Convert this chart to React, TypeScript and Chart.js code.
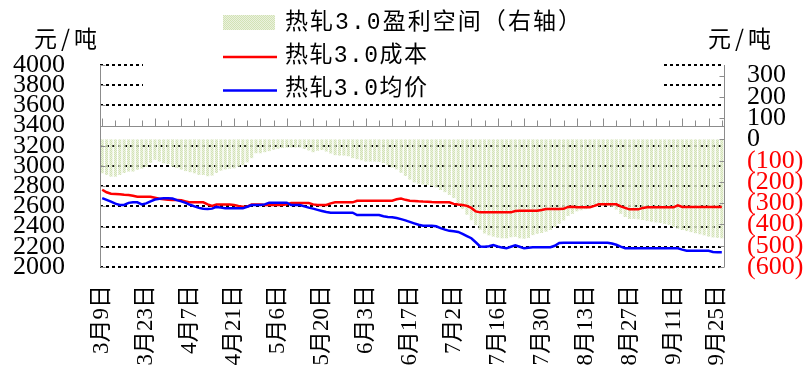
import React, { useEffect, useRef } from 'react';
import { Chart, registerables } from 'chart.js';

Chart.register(...registerables);

// ---------- data ----------
const tickLabels = ['3月9日', '3月23日', '4月7日', '4月21日', '5月6日', '5月20日', '6月3日', '6月17日', '7月2日', '7月16日', '7月30日', '8月13日', '8月27日', '9月11日', '9月25日'];
const labelStep = 10;

const costValues = [
  2765, 2740, 2725, 2723, 2720, 2715, 2713, 2705, 2696, 2696,
  2696, 2696, 2685, 2675, 2670, 2665, 2663, 2663, 2660, 2650,
  2640, 2640, 2640, 2640, 2620, 2605, 2618, 2618, 2618, 2618,
  2614, 2605, 2597, 2597, 2618, 2618, 2618, 2614, 2614, 2614,
  2614, 2614, 2620, 2634, 2634, 2634, 2634, 2634, 2620, 2614,
  2614, 2614, 2630, 2640, 2640, 2640, 2640, 2640, 2656, 2656,
  2656, 2656,
  2656, 2656, 2656, 2656, 2656, 2670, 2678, 2665, 2656,
  2653, 2650, 2648, 2647, 2643, 2640, 2640, 2640, 2640, 2625,
  2618, 2614, 2605, 2585, 2550, 2541, 2541, 2541, 2541, 2541,
  2541, 2541, 2541, 2555, 2558, 2558, 2558, 2558, 2558, 2565,
  2574, 2574, 2574, 2574, 2576, 2595, 2597, 2591, 2591, 2591,
  2591, 2605, 2621, 2621, 2621, 2621, 2621, 2600, 2585, 2571,
  2571, 2571, 2585, 2591, 2591, 2591, 2591, 2591, 2591, 2591,
  2610, 2595, 2594, 2594, 2594, 2594, 2594, 2594, 2594, 2594, 2594,
];

const priceValues = [
  2682, 2665, 2647, 2627, 2614, 2614, 2635, 2640, 2640, 2620,
  2630, 2650, 2668, 2676, 2680, 2680, 2678, 2662, 2650, 2635,
  2616, 2600, 2585, 2576, 2574, 2578, 2595, 2588, 2581, 2581,
  2581, 2581, 2581, 2597, 2614, 2614, 2614, 2620, 2637, 2637,
  2637, 2637, 2637, 2614, 2614, 2614, 2600, 2588, 2578, 2566,
  2555, 2545, 2538, 2538, 2538, 2538, 2538, 2538, 2515, 2515,
  2515, 2515,
  2515, 2515, 2502, 2496, 2493, 2485, 2474, 2462, 2447,
  2432, 2418, 2409, 2409, 2409, 2403, 2385, 2370, 2358, 2353,
  2347, 2328, 2306, 2285, 2245, 2203, 2201, 2206, 2217, 2203,
  2192, 2185, 2200, 2215, 2200, 2185, 2190, 2195, 2195, 2195,
  2195, 2195, 2210, 2238, 2241, 2241, 2241, 2241, 2241, 2241,
  2241, 2241, 2241, 2241, 2241, 2232, 2220, 2202, 2186, 2185,
  2185, 2185, 2185, 2185, 2185, 2185, 2185, 2185, 2185, 2185,
  2185, 2172, 2162, 2162, 2162, 2162, 2162, 2160, 2148, 2145, 2145,
];

const profitValues = [
  -159, -167, -175, -175, -167, -158, -151, -151, -143, -137,
  -130, -110, -96, -104, -112, -116, -128, -135, -142, -149,
  -154, -159, -167, -167, -173, -170, -158, -147, -141, -138,
  -136, -128, -121, -108, -88, -65, -65, -60, -55, -49,
  -44, -40, -38, -38, -38, -38, -45, -52, -60, -53,
  -50, -57, -66, -74, -76, -76, -79, -88, -93, -98,
  -104, -104,
  -104, -106, -111, -121, -132, -141, -157, -172, -189,
  -202, -208, -212, -214, -219, -226, -238, -248, -261, -276,
  -300, -327, -354, -380, -403, -425, -442, -451, -457, -462,
  -465, -465, -460, -458, -465, -467, -463, -450, -444, -440,
  -434, -426, -412, -397, -381, -360, -350, -338, -333, -328,
  -322, -317, -313, -311, -311, -317, -330, -350, -365, -374,
  -374, -376, -379, -383, -387, -390, -393, -397, -402, -412,
  -420, -426, -431, -436, -441, -446, -451, -457, -461, -463, -465,
];

const leftTickValues = [2000, 2200, 2400, 2600, 2800, 3000, 3200, 3400, 3600, 3800, 4000];
const rightTickValues = [-600, -500, -400, -300, -200, -100, 0, 100, 200, 300];
const leftMin = 2000;
const leftMax = 4000;
const rightMin = -600;
const rightMax = 350;
const axisCrossValue = 3400;

const legendNames = ['热轧3.0盈利空间（右轴）', '热轧3.0成本', '热轧3.0均价'];
const unitTitle = '元/吨';

const categories = costValues.map((_, i) =>
  i % labelStep === 0 && tickLabels[i / labelStep] ? tickLabels[i / labelStep] : ''
);

// ---------- styles ----------
const SERIF = "'Liberation Serif', 'Noto Sans CJK SC', serif";
const AXIS_GRAY = '#8c8c8c';
const RED = '#ff0000';
const BLUE = '#0000ff';

function makePattern(): CanvasPattern | string {
  const c = document.createElement('canvas');
  c.width = 2;
  c.height = 2;
  const p = c.getContext('2d');
  if (!p) return '#dbe7c6';
  p.fillStyle = 'rgba(202,221,168,0.85)';
  p.fillRect(0, 0, 1, 1);
  p.fillRect(1, 1, 1, 1);
  p.fillStyle = 'rgba(232,240,216,0.85)';
  p.fillRect(1, 0, 1, 1);
  p.fillRect(0, 1, 1, 1);
  const pat = p.createPattern(c, 'repeat');
  return pat || '#dbe7c6';
}

// draws text with uniform extra spacing so that it spans the given width
function drawFitted(ctx: CanvasRenderingContext2D, text: string, x: number, y: number, width: number) {
  const chars = Array.from(text);
  const total = chars.reduce((s, ch) => s + ctx.measureText(ch).width, 0);
  const spacing = chars.length > 1 ? Math.max(0, (width - total) / (chars.length - 1)) : 0;
  let cx = x;
  for (const ch of chars) {
    ctx.fillText(ch, cx, y);
    cx += ctx.measureText(ch).width + spacing;
  }
}

const decorPlugin = {
  id: 'decor',
  afterDatasetsDraw(chart: any) {
    const { ctx, chartArea: a, scales } = chart;
    const xs = scales.x;
    const ys = scales.y;
    const y1 = scales.y1;
    ctx.save();
    ctx.strokeStyle = AXIS_GRAY;
    ctx.lineWidth = 1;
    ctx.setLineDash([]);
    ctx.beginPath();
    // category axis crossing the left axis at 3400
    const cy = Math.round(ys.getPixelForValue(axisCrossValue)) + 0.5;
    ctx.moveTo(a.left, cy);
    ctx.lineTo(a.right, cy);
    for (let i = 0; i < categories.length; i += 3) {
      const px = Math.round(xs.getPixelForValue(i)) + 0.5;
      const len = i % 6 === 0 ? 8 : 6;
      ctx.moveTo(px, cy);
      ctx.lineTo(px, cy - len);
    }
    // left axis
    const lx = Math.round(a.left) + 0.5;
    ctx.moveTo(lx, a.top);
    ctx.lineTo(lx, a.bottom);
    leftTickValues.forEach((v) => {
      const py = Math.round(ys.getPixelForValue(v)) + 0.5;
      ctx.moveTo(lx, py);
      ctx.lineTo(lx + 5, py);
    });
    // right axis
    const rx = Math.round(a.right) + 0.5;
    ctx.moveTo(rx, a.top);
    ctx.lineTo(rx, a.bottom);
    rightTickValues.forEach((v) => {
      const py = Math.round(y1.getPixelForValue(v)) + 0.5;
      ctx.moveTo(rx, py);
      ctx.lineTo(rx - 5, py);
    });
    ctx.stroke();
    ctx.restore();
  },
  afterDraw(chart: any) {
    const { ctx } = chart;
    ctx.save();
    // legend box
    ctx.fillStyle = '#ffffff';
    ctx.fillRect(143, 0, 520, 100);
    ctx.fillStyle = makePattern();
    ctx.fillRect(223, 15, 52, 15);
    ctx.lineWidth = 2.5;
    ctx.strokeStyle = RED;
    ctx.beginPath();
    ctx.moveTo(223, 57);
    ctx.lineTo(277, 57);
    ctx.stroke();
    ctx.strokeStyle = BLUE;
    ctx.beginPath();
    ctx.moveTo(223, 90.5);
    ctx.lineTo(277, 90.5);
    ctx.stroke();
    ctx.fillStyle = '#000';
    ctx.textAlign = 'left';
    ctx.textBaseline = 'middle';
    ctx.font = "23px 'Liberation Mono', 'Noto Sans CJK SC'";
    drawFitted(ctx, legendNames[0], 285, 23, 296);
    drawFitted(ctx, legendNames[1], 285, 56, 142);
    drawFitted(ctx, legendNames[2], 285, 89, 142);
    // unit titles
    ctx.font = "23px 'Noto Sans CJK SC'";
    drawFitted(ctx, unitTitle, 34, 38, 63);
    drawFitted(ctx, unitTitle, 708, 38, 63);
    ctx.restore();
  },
};

export default function App() {
  const canvasRef = useRef<HTMLCanvasElement | null>(null);

  useEffect(() => {
    const canvas = canvasRef.current;
    if (!canvas) return;
    const chart = new Chart(canvas, {
      type: 'bar',
      data: {
        labels: categories,
        datasets: [
          {
            type: 'line',
            label: legendNames[2],
            data: priceValues,
            yAxisID: 'y',
            borderColor: BLUE,
            backgroundColor: BLUE,
            borderWidth: 2.5,
            pointRadius: 0,
            tension: 0,
            order: 1,
          } as any,
          {
            type: 'line',
            label: legendNames[1],
            data: costValues,
            yAxisID: 'y',
            borderColor: RED,
            backgroundColor: RED,
            borderWidth: 2.5,
            pointRadius: 0,
            tension: 0,
            order: 2,
          } as any,
          {
            type: 'bar',
            label: legendNames[0],
            data: profitValues,
            yAxisID: 'y1',
            backgroundColor: makePattern() as any,
            borderWidth: 0,
            barPercentage: 0.7,
            categoryPercentage: 1,
            order: 3,
          } as any,
        ],
      },
      options: {
        responsive: false,
        animation: false,
        layout: { padding: { top: 65, left: 0, right: 0, bottom: 0 } },
        plugins: {
          legend: { display: false },
          tooltip: { enabled: false },
        },
        scales: {
          x: {
            type: 'category',
            offset: true,
            afterFit: (s: any) => { s.height = 114; },
            grid: { display: false, drawTicks: false },
            border: { display: false },
            ticks: {
              autoSkip: false,
              minRotation: 90,
              maxRotation: 90,
              padding: 18,
              color: '#000',
              font: { family: SERIF, size: 23 },
            },
          },
          y: {
            position: 'left',
            min: leftMin,
            max: leftMax,
            afterBuildTicks: (s: any) => { s.ticks = leftTickValues.map((v) => ({ value: v })); },
            afterFit: (s: any) => { s.width = 100; },
            grid: {
              drawTicks: false,
              lineWidth: 2,
              color: (c: any) => (c.tick && c.tick.value === axisCrossValue ? 'rgba(0,0,0,0)' : '#000'),
            },
            border: { display: false, dash: [3, 3] },
            ticks: {
              autoSkip: false,
              padding: 35,
              color: '#000',
              callback: (v: any) => String(v),
              font: { family: SERIF, size: 26 },
            },
          },
          y1: {
            position: 'right',
            min: rightMin,
            max: rightMax,
            afterBuildTicks: (s: any) => { s.ticks = rightTickValues.map((v) => ({ value: v })); },
            afterFit: (s: any) => { s.width = 85; },
            grid: { display: false, drawTicks: false },
            border: { display: false },
            ticks: {
              autoSkip: false,
              padding: 23,
              color: (c: any) => (c.tick && c.tick.value < 0 ? RED : '#000'),
              callback: (v: any) => (Number(v) < 0 ? `(${-Number(v)})` : String(v)),
              font: { family: SERIF, size: 26 },
            },
          },
        },
      } as any,
      plugins: [decorPlugin],
    });
    return () => chart.destroy();
  }, []);

  return (
    <div style={{ position: 'absolute', left: 0, top: 0, width: 809, height: 381, background: '#fff' }}>
      <canvas ref={canvasRef} width={809} height={381} style={{ display: 'block', width: 809, height: 381 }} />
    </div>
  );
}
